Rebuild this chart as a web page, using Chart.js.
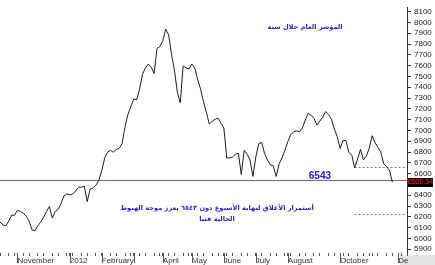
<!DOCTYPE html>
<html>
<head>
<meta charset="utf-8">
<script src="https://cdn.jsdelivr.net/npm/chart.js@4.4.1/dist/chart.umd.min.js"></script>
<style>
  html, body { margin: 0; padding: 0; background: #fff; }
  .wrap { position: relative; width: 435px; height: 265px; overflow: hidden; }
  canvas { display: block; }
  .note {
    position: absolute;
    color: #2828c8;
    font-family: "DejaVu Sans", sans-serif;
    font-weight: bold;
    font-size: 6.6px;
    direction: rtl;
    text-align: center;
    white-space: nowrap;
    line-height: 11px;
  }
  .note--title { left: 255px; top: 22px; width: 100px; }
  .note--comment { left: 97px; top: 203px; width: 240px; }
</style>
</head>
<body>
<div class="wrap">
  <canvas id="indexChart" width="435" height="265"></canvas>
  <div class="note note--title">المؤشر العام خلال سنة</div>
  <div class="note note--comment">أستمرار الأغلاق لنهاية الأسبوع دون ٦٥٤٣ يعزز موجة الهبوط<br>الحالية فنيا</div>
</div>
<script>
// closing levels, roughly every second trading day (Oct 2011 - Nov 2012)
const closes = [
  6152, 6125, 6116, 6161, 6215, 6215, 6260, 6251, 6233, 6206,
  6161, 6080, 6071, 6116, 6152, 6197, 6251, 6296, 6188, 6251,
  6269, 6323, 6394, 6412, 6403, 6412, 6439, 6475, 6475, 6484,
  6341, 6457, 6466, 6493, 6538, 6628, 6745, 6798, 6816, 6798,
  6825, 6834, 6879, 7032, 7149, 7220, 7292, 7283, 7382, 7517,
  7579, 7615, 7588, 7526, 7759, 7777, 7831, 7938, 7885, 7705,
  7561, 7355, 7256, 7597, 7579, 7570, 7615, 7579, 7472, 7382,
  7265, 7166, 7059, 7086, 7104, 7113, 7068, 7023, 6745, 6745,
  6754, 6780, 6789, 6592, 6816, 6780, 6727, 6574, 6754, 6879,
  6888, 6789, 6727, 6682, 6673, 6574, 6691, 6745, 6816, 6897,
  6960, 6987, 6996, 6987, 7023, 7095, 7158, 7140, 7113, 7050,
  7086, 7122, 7175, 7149, 7104, 7014, 6942, 6834, 6906, 6906,
  6798, 6771, 6655, 6736, 6825, 6727, 6762, 6834, 6951, 6888,
  6843, 6798, 6691, 6664, 6628, 6520.34
];

const slotCount = 141;
const slots = Array.from({ length: slotCount }, (_, i) => i);

const monthTickIndex = [6, 15, 24, 35, 46, 56, 66, 77, 88, 99, 108, 117, 127, 137];
const monthTickLabel = ["November", "", "2012", "February", "", "April", "May", "June", "July", "August", "", "October", "", "De"];
const separatorIndex = [6, 24, 35, 46, 56, 66, 77, 88, 99, 117, 137];

const yTickValues = [
  5900, 6000, 6100, 6200, 6300, 6400, 6500, 6600, 6700, 6800, 6900,
  7000, 7100, 7200, 7300, 7400, 7500, 7600, 7700, 7800, 7900, 8000, 8100
];

const refLevel = 6543;
const supportLevels = [6664, 6230];
const supportStart = 122;

const axisFont = "'Liberation Sans', Arial, sans-serif";

document.addEventListener("DOMContentLoaded", function () {
  const ctx = document.getElementById("indexChart").getContext("2d");

  // weekly minor ticks plus the month ticks
  const xTicks = new Set(monthTickIndex);
  for (let k = 0; k * 2.5 <= slotCount - 1; k++) {
    xTicks.add(Math.round(k * 2.5));
  }

  const levelsPlugin = {
    id: "levels",
    beforeDraw(chart) {
      const c = chart.ctx;
      c.save();
      c.fillStyle = "#e4e4e4";
      c.fillRect(400, 255, 35, 10);
      c.restore();
    },
    beforeDatasetsDraw(chart) {
      const c = chart.ctx;
      const area = chart.chartArea;
      const y = chart.scales.y;
      const x = chart.scales.x;

      c.save();
      // 6543 line
      const yRef = Math.round(y.getPixelForValue(refLevel)) + 0.5;
      c.strokeStyle = "#6666cc";
      c.lineWidth = 1;
      c.beginPath();
      c.moveTo(area.left, yRef);
      c.lineTo(area.right, yRef);
      c.stroke();

      // dotted support lines
      c.strokeStyle = "#7272d8";
      c.setLineDash([2, 2]);
      supportLevels.forEach((lvl) => {
        const yy = Math.round(y.getPixelForValue(lvl)) + 0.5;
        c.beginPath();
        c.moveTo(x.getPixelForValue(supportStart), yy);
        c.lineTo(area.right - 2, yy);
        c.stroke();
      });
      c.setLineDash([]);

      c.fillStyle = "#2222cc";
      c.font = "bold 10px " + axisFont;
      c.textAlign = "right";
      c.textBaseline = "alphabetic";
      c.fillText(String(refLevel), 331, yRef - 2);
      c.restore();
    },
    afterDraw(chart) {
      const c = chart.ctx;
      const area = chart.chartArea;
      const y = chart.scales.y;
      const x = chart.scales.x;

      c.save();
      // month separators on the time axis
      c.strokeStyle = "#555";
      c.lineWidth = 1;
      separatorIndex.forEach((i) => {
        const px = Math.round(x.getPixelForValue(i)) + 0.5;
        c.beginPath();
        c.moveTo(px, area.bottom);
        c.lineTo(px, area.bottom + 10);
        c.stroke();
      });

      // last value box
      const last = closes[closes.length - 1];
      const yl = Math.round(y.getPixelForValue(last));
      c.fillStyle = "#000";
      c.fillRect(area.right + 1, yl - 4, 25, 9);
      c.fillStyle = "#ff2a2a";
      c.font = "7px " + axisFont;
      c.textAlign = "center";
      c.textBaseline = "middle";
      c.fillText(last.toFixed(2), area.right + 13.5, yl + 0.5);
      c.restore();
    },
  };

  new Chart(ctx, {
    type: "line",
    data: {
      labels: slots,
      datasets: [
        {
          label: "Index",
          data: closes,
          borderColor: "#1e1e1e",
          borderWidth: 1,
          pointRadius: 0,
          tension: 0,
          fill: false,
        },
      ],
    },
    options: {
      responsive: false,
      animation: false,
      layout: { padding: 0 },
      plugins: {
        legend: { display: false },
        tooltip: { enabled: false },
      },
      scales: {
        x: {
          type: "category",
          offset: false,
          afterBuildTicks: function (scale) {
            scale.ticks = Array.from(xTicks)
              .sort((a, b) => a - b)
              .map((v) => ({ value: v }));
          },
          afterFit: function (scale) {
            scale.height = 12;
          },
          border: { display: false },
          grid: {
            drawOnChartArea: false,
            drawTicks: true,
            tickLength: 3,
            color: "#555",
          },
          ticks: {
            autoSkip: false,
            maxRotation: 0,
            minRotation: 0,
            align: "start",
            padding: 0,
            color: "#333",
            font: { family: axisFont, size: 8 },
            callback: function (value) {
              const k = monthTickIndex.indexOf(value);
              return k >= 0 ? monthTickLabel[k] : "";
            },
          },
        },
        y: {
          position: "right",
          min: 5865,
          max: 8136,
          afterBuildTicks: function (scale) {
            scale.ticks = yTickValues.map((v) => ({ value: v }));
          },
          afterFit: function (scale) {
            scale.width = 28;
          },
          border: { display: true, color: "#333", width: 1 },
          grid: {
            drawOnChartArea: false,
            drawTicks: true,
            tickLength: 4,
            color: "#333",
          },
          ticks: {
            autoSkip: false,
            padding: 3,
            color: "#222",
            font: { family: axisFont, size: 8 },
            callback: function (value) {
              return String(value);
            },
          },
        },
      },
    },
    plugins: [levelsPlugin],
  });
});
</script>
</body>
</html>
